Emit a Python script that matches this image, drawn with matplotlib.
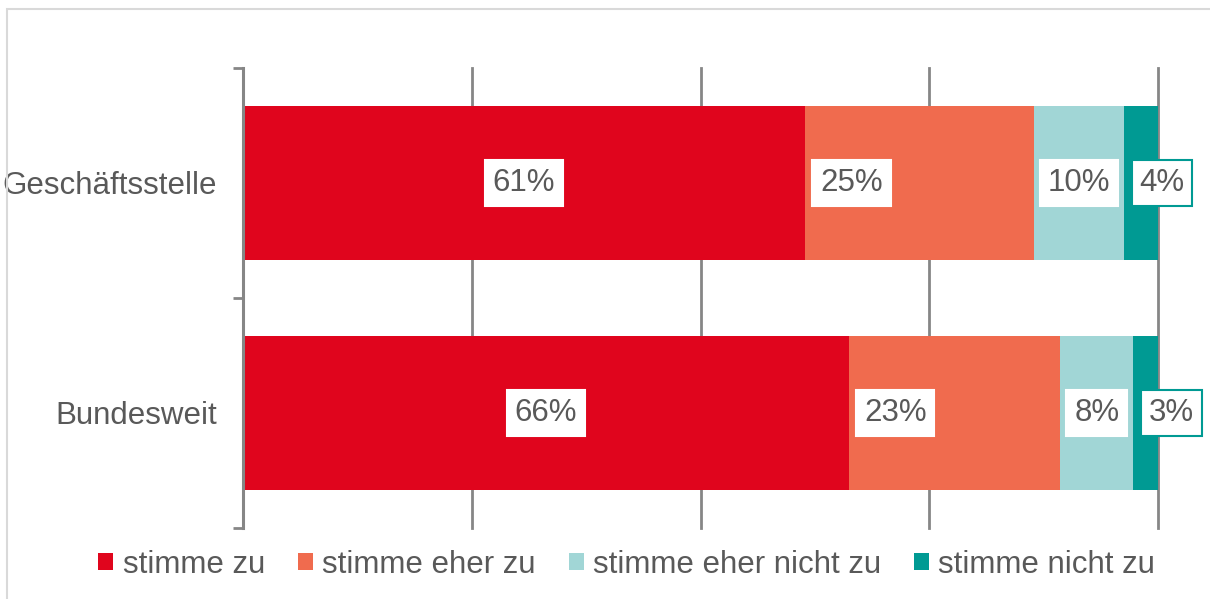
import matplotlib.pyplot as plt
import numpy as np
from matplotlib.patches import Patch, Rectangle

plt.rcParams["font.family"] = ["Liberation Sans", "DejaVu Sans"]

# -------------------------------
# Data (percent)
# -------------------------------
categories = ["Geschäftsstelle", "Bundesweit"]
series_names = ["stimme zu", "stimme eher zu", "stimme eher nicht zu", "stimme nicht zu"]
stimme_zu = [61.4, 66.2]
stimme_eher_zu = [25.0, 23.1]
stimme_eher_nicht_zu = [9.9, 8.0]
stimme_nicht_zu = [3.7, 2.7]
series_values = [stimme_zu, stimme_eher_zu, stimme_eher_nicht_zu, stimme_nicht_zu]
grid_ticks = [25, 50, 75, 100]

# -------------------------------
# Styling
# -------------------------------
colors = ["#e0051d", "#f06b4e", "#a1d6d6", "#009a93"]
label_align = ["center", "left", "center", "left"]
label_edge = ["white", "white", "white", "#009a93"]
text_color = "#595959"
axis_gray = "#868686"
fs = 22.5

fig = plt.figure(figsize=(12.10, 5.99), dpi=100)
ax = fig.add_axes([243 / 1210, 1 - 528 / 599, (1158 - 243) / 1210, 460 / 599])

y = np.arange(len(categories))
left = np.zeros(len(categories))
bar_h = 0.67

for i, vals in enumerate(series_values):
    vals = np.array(vals)
    ax.barh(y, vals, left=left, height=bar_h, color=colors[i], zorder=2)
    for j, v in enumerate(vals):
        box = dict(boxstyle="square,pad=0.25", facecolor="white",
                   edgecolor=label_edge[i], linewidth=1.5)
        if label_align[i] == "center":
            ax.annotate(f"{v:.0f}%", xy=(left[j] + v / 2, y[j]), ha="center", va="center",
                        fontsize=fs, color=text_color, bbox=box, zorder=4)
        else:
            ax.annotate(f"{v:.0f}%", xy=(left[j], y[j]), xytext=(11, 0),
                        textcoords="offset points", ha="left", va="center",
                        fontsize=fs, color=text_color, bbox=box, zorder=4,
                        annotation_clip=False)
    left = left + vals

ax.set_xlim(0, 100)
ax.set_ylim(1.5, -0.5)
ax.set_xticks(grid_ticks)
ax.tick_params(axis="x", length=0, labelbottom=False)
ax.grid(axis="x", color=axis_gray, linewidth=2, zorder=1)
for gl in ax.get_xgridlines():
    gl.set_clip_on(False)
ax.set_axisbelow(True)

ax.set_yticks(y)
ax.set_yticklabels(categories, fontsize=fs, color=text_color)
ax.tick_params(axis="y", length=0, pad=18.5)
ax.set_yticks([-0.5, 0.5, 1.5], minor=True)
ax.tick_params(axis="y", which="minor", length=7, width=2, color=axis_gray)

for s in ["top", "right", "bottom"]:
    ax.spines[s].set_visible(False)
ax.spines["left"].set_color(axis_gray)
ax.spines["left"].set_linewidth(2.2)
ax.spines["left"].set_zorder(3)

# -------------------------------
# Legend
# -------------------------------
handles = [Patch(facecolor=c, label=n) for c, n in zip(colors, series_names)]
fig.legend(handles=handles, loc="center", bbox_to_anchor=(0.518, 0.057), ncol=4,
           frameon=False, fontsize=fs, labelcolor=text_color,
           handlelength=0.48, handleheight=0.48, handletextpad=0.3,
           columnspacing=1.05, borderaxespad=0)

# outer frame of the chart area
fig.add_artist(Rectangle((7 / 1210, -0.2), 1.5, 0.2 + 1 - 8.5 / 599,
                         transform=fig.transFigure, fill=False,
                         edgecolor="#d9d9d9", linewidth=1.5))

plt.savefig("out.png", dpi=100)
plt.close(fig)
